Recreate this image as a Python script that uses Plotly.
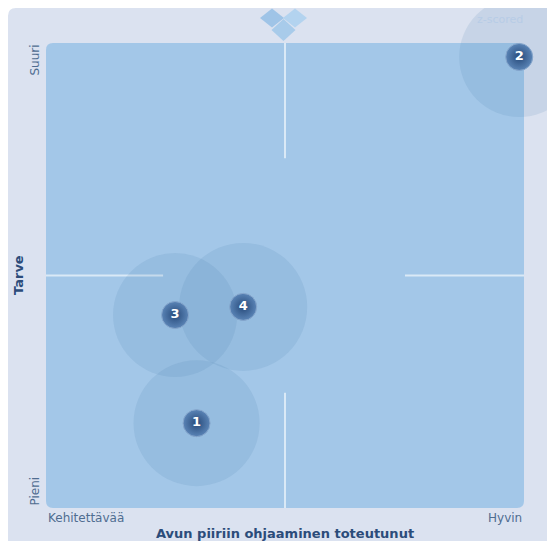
import plotly.graph_objects as go

# ---- data (z-scored positions) ----
labels = ["1", "2", "3", "4"]
x_vals = [-0.74, 1.96, -0.92, -0.35]
y_vals = [-1.27, 1.88, -0.34, -0.27]
bubble_sizes = [126, 120, 124, 128]

x_title = "Avun piiriin ohjaaminen toteutunut"
y_title = "Tarve"
x_ticks = ["Kehitettävää", "Hyvin"]
y_ticks = ["Pieni", "Suuri"]
note = "z-scored"

W, H = 555, 541
OFF = 8  # page body margin
L, T = 38, 35
PW, PH = 478, 465
R, B = W - L - PW, H - T - PH


def px(sx):
    return (sx - OFF - L) / PW


def py(sy):
    return (T + PH - (sy - OFF)) / PH


def rrect(x0, y0, x1, y1, r):
    def P(x, y):
        return f"{px(x):.5f},{py(y):.5f}"
    s = "M " + P(x0 + r, y0) + " L " + P(x1 - r, y0)
    s += " Q " + P(x1, y0) + " " + P(x1, y0 + r)
    s += " L " + P(x1, y1 - r) + " Q " + P(x1, y1) + " " + P(x1 - r, y1)
    s += " L " + P(x0 + r, y1) + " Q " + P(x0, y1) + " " + P(x0, y1 - r)
    s += " L " + P(x0, y0 + r) + " Q " + P(x0, y0) + " " + P(x0 + r, y0)
    return s + " Z"


def corner(x0, y0, r):
    def P(x, y):
        return f"{px(x):.5f},{py(y):.5f}"
    return ("M " + P(x0, y0) + " L " + P(x0 + r, y0) + " Q " + P(x0, y0) + " "
            + P(x0, y0 + r) + " Z")


def diamond(cx, cy, w, h):
    return (f"M {px(cx):.5f},{py(cy - h/2):.5f} L {px(cx + w/2):.5f},{py(cy):.5f} "
            f"L {px(cx):.5f},{py(cy + h/2):.5f} L {px(cx - w/2):.5f},{py(cy):.5f} Z")


shapes = [
    dict(type="path", xref="paper", yref="paper", layer="below",
         path=corner(8, 8, 8), fillcolor="white", line=dict(width=0)),
    dict(type="path", xref="paper", yref="paper", layer="below",
         path=rrect(46, 43, 524, 508, 7),
         fillcolor="#a3c7e8", line=dict(width=0)),
    # crosshair segments
    dict(type="line", xref="x", yref="paper", x0=0, x1=0, y0=0.752, y1=1, layer="below",
         line=dict(color="rgba(255,255,255,0.6)", width=2)),
    dict(type="line", xref="x", yref="paper", x0=0, x1=0, y0=0, y1=0.248, layer="below",
         line=dict(color="rgba(255,255,255,0.6)", width=2)),
    dict(type="line", xref="paper", yref="y", x0=0, x1=0.245, y0=0, y1=0, layer="below",
         line=dict(color="rgba(255,255,255,0.6)", width=2)),
    dict(type="line", xref="paper", yref="y", x0=0.751, x1=1, y0=0, y1=0, layer="below",
         line=dict(color="rgba(255,255,255,0.6)", width=2)),
    # logo diamonds
    dict(type="path", xref="paper", yref="paper", layer="below",
         path=diamond(272, 18, 24, 19), fillcolor="#9fc4e7", line=dict(width=0)),
    dict(type="path", xref="paper", yref="paper", layer="below",
         path=diamond(295, 18, 24, 19), fillcolor="#b3d3ef", line=dict(width=0)),
    dict(type="path", xref="paper", yref="paper", layer="below",
         path=diamond(283.5, 30, 24, 22), fillcolor="#a8cbea", line=dict(width=0)),
]

fig = go.Figure()
fig.add_trace(go.Scatter(
    x=x_vals, y=y_vals, mode="markers", cliponaxis=False, hoverinfo="skip",
    marker=dict(size=bubble_sizes, sizemode="diameter",
                color="rgba(64,117,171,0.18)", line=dict(width=0)),
))
fig.add_trace(go.Scatter(
    x=x_vals, y=y_vals, mode="markers+text", text=labels, cliponaxis=False,
    textposition="middle center",
    textfont=dict(family="DejaVu Sans", size=13, color="white", weight="bold"),
    marker=dict(size=27, color="#5a84b6",
                gradient=dict(type="radial", color="#274a7a"),
                line=dict(color="#86a6cc", width=1)),
))

tick_font = dict(family="DejaVu Sans", size=12, color="#4f6d90")
title_font = dict(family="DejaVu Sans", size=13, color="#2b4c7a", weight="bold")
annotations = [
    dict(text=x_ticks[0], x=0, y=0, xref="paper", yref="paper", xanchor="left",
         yanchor="top", yshift=-1, showarrow=False, font=tick_font),
    dict(text=x_ticks[1], x=1, y=0, xref="paper", yref="paper", xanchor="right",
         yanchor="top", yshift=-1, showarrow=False, font=tick_font),
    dict(text=x_title, x=0.5, y=0, xref="paper", yref="paper", xanchor="center",
         yanchor="top", yshift=-16, showarrow=False, font=title_font),
    dict(text=y_ticks[0], x=0, y=0, xref="paper", yref="paper", xanchor="right",
         yanchor="bottom", xshift=-3, textangle=-90, showarrow=False, font=tick_font),
    dict(text=y_ticks[1], x=0, y=1, xref="paper", yref="paper", xanchor="right",
         yanchor="top", xshift=-3, textangle=-90, showarrow=False, font=tick_font),
    dict(text=y_title, x=0, y=0.5, xref="paper", yref="paper", xanchor="right",
         yanchor="middle", xshift=-18, textangle=-90, showarrow=False, font=title_font),
    dict(text=note, x=px(500), y=py(20), xref="paper", yref="paper", xanchor="center",
         yanchor="middle", showarrow=False,
         font=dict(family="DejaVu Sans", size=11, color="#b7cce6")),
]

fig.update_layout(
    width=W, height=H,
    margin=dict(l=L, r=R, t=T, b=B),
    paper_bgcolor="#dbe2f0", plot_bgcolor="rgba(0,0,0,0)",
    showlegend=False,
    shapes=shapes, annotations=annotations,
    xaxis=dict(range=[-2, 2], visible=False, fixedrange=True),
    yaxis=dict(range=[-2, 2], visible=False, fixedrange=True),
)

fig.write_html("out.html")
